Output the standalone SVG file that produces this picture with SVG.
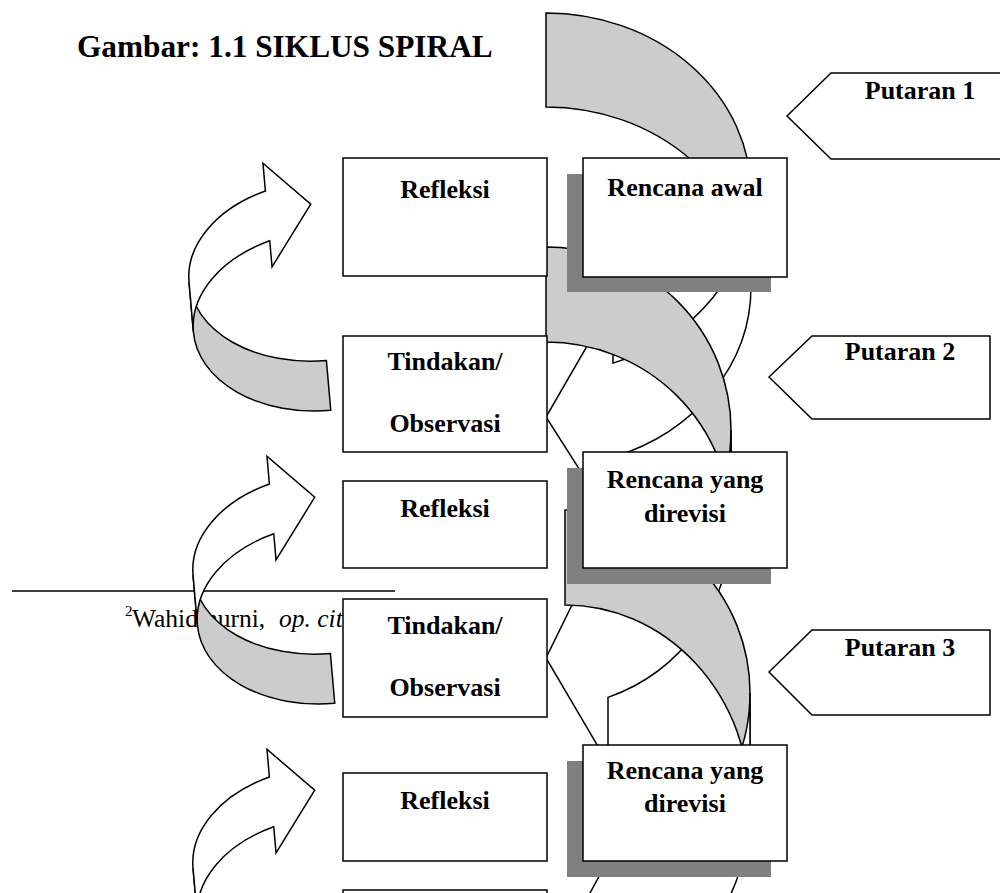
<svg xmlns="http://www.w3.org/2000/svg" width="1000" height="893" viewBox="0 0 1000 893">
<style>
.t{font-family:"Liberation Serif","Times New Roman",serif;font-weight:bold;font-size:26px;fill:#000;text-anchor:middle}
.box{fill:#fff;stroke:#000;stroke-width:1.5}
.sh{fill:#808080}
.dk{fill:#cccccc;stroke:#000;stroke-width:1.5}
.lt{fill:#fff;stroke:#000;stroke-width:1.5;stroke-linejoin:miter}
.pt{fill:#fff;stroke:#000;stroke-width:1.5}
</style>
<defs>
<g id="leftArrow">
<path class="dk" d="M190,276 A130,90 0 0 0 320,366 L320,416 A130,90 0 0 1 190,326 Z"/>
<path class="lt" d="M190,276 A130,90 0 0 1 274,191.8 L274,164 L318,209 L274,268 L274,241.8 A130,90 0 0 0 190,326 Z"/>
</g>
</defs>
<rect width="1000" height="893" fill="#fff"/>
<g id="footnote">
<line x1="12" y1="591" x2="395" y2="591" stroke="#000" stroke-width="1.5"/>
<text font-family="Liberation Serif,serif" font-size="25.5"><tspan x="125" y="616" font-size="15">2</tspan><tspan x="132" y="627">Wahidmurni,</tspan><tspan x="279" y="627" font-style="italic">op. cit.</tspan></text>
</g>
<g id="connectors">
<g id="cycle1-right">
<path class="dk" d="M546,13 A205,180 0 0 1 751,193 L751,287 A205,180 0 0 0 546,107 Z"/>
<path class="lt" d="M751,193 A205,180 0 0 1 613,363.1 L613,301 L546,417 L613,522 L613,457.1 A205,180 0 0 0 751,287 Z"/>
</g>
<g id="cycle2-right">
<path class="dk" d="M546,247 A185,183 0 0 1 731,430 L731,525 A185,183 0 0 0 546,342 Z"/>
<path class="lt" d="M731,430 A185,183 0 0 1 608,602.4 L608,531.6 L546,658 L608,763.4 L608,697.4 A185,183 0 0 0 731,525 Z"/>
</g>
<g id="cycle3-right">
<path class="dk" d="M565,510 A185,183 0 0 1 750,693 L750,805 A185,200 0 0 0 565,605 Z"/>
<path class="lt" d="M750,693 A185,183 0 0 1 627,865.4 L627,825 L565,939 L627,1050 L627,993.4 A185,200 0 0 0 750,805 Z"/>
</g>
<use id="cycle1-left" href="#leftArrow" transform="rotate(-5 260 290)"/>
<use id="cycle2-left" href="#leftArrow" transform="translate(4 293) rotate(-5 260 290)"/>
<use id="cycle3-left" href="#leftArrow" transform="translate(4 586) rotate(-5 260 290)"/>
</g>
<g id="refleksi1"><rect class="box" x="343" y="158" width="204" height="118"/><text class="t" x="445" y="198">Refleksi</text></g>
<g id="rencana-awal"><rect class="sh" x="567" y="174" width="204" height="118"/><rect class="box" x="583" y="158" width="204" height="119"/><text class="t" x="685" y="196">Rencana awal</text></g>
<g id="tindakan1"><rect class="box" x="343" y="336" width="204" height="116"/><text class="t" x="445" y="370">Tindakan/</text><text class="t" x="445" y="432">Observasi</text></g>
<g id="refleksi2"><rect class="box" x="343" y="481" width="204" height="87"/><text class="t" x="445" y="517">Refleksi</text></g>
<g id="rencana2"><rect class="sh" x="567" y="468" width="204" height="116"/><rect class="box" x="583" y="452" width="204" height="116"/><text class="t" x="685" y="488">Rencana yang</text><text class="t" x="685" y="522">direvisi</text></g>
<g id="tindakan2"><rect class="box" x="343" y="599" width="204" height="118"/><text class="t" x="445" y="634">Tindakan/</text><text class="t" x="445" y="696">Observasi</text></g>
<g id="refleksi3"><rect class="box" x="343" y="773" width="204" height="88"/><text class="t" x="445" y="809">Refleksi</text></g>
<g id="rencana3"><rect class="sh" x="567" y="761" width="204" height="116"/><rect class="box" x="583" y="745" width="204" height="116"/><text class="t" x="685" y="779">Rencana yang</text><text class="t" x="685" y="812">direvisi</text></g>
<g id="tindakan3"><rect class="box" x="343" y="890" width="204" height="60"/></g>
<g id="putaran1"><polygon class="pt" points="787,116 831,73 1010,73 1010,159 831,159"/><text class="t" x="920" y="99">Putaran 1</text></g>
<g id="putaran2"><polygon class="pt" points="769,377 812,336 990,336 990,419 812,419"/><text class="t" x="900" y="360">Putaran 2</text></g>
<g id="putaran3"><polygon class="pt" points="769,672 812,630 990,630 990,715 812,715"/><text class="t" x="900" y="656">Putaran 3</text></g>
<g id="title"><text x="77" y="57" font-family="Liberation Serif,serif" font-weight="bold" font-size="31.3">Gambar: 1.1 SIKLUS SPIRAL</text></g>
</svg>
